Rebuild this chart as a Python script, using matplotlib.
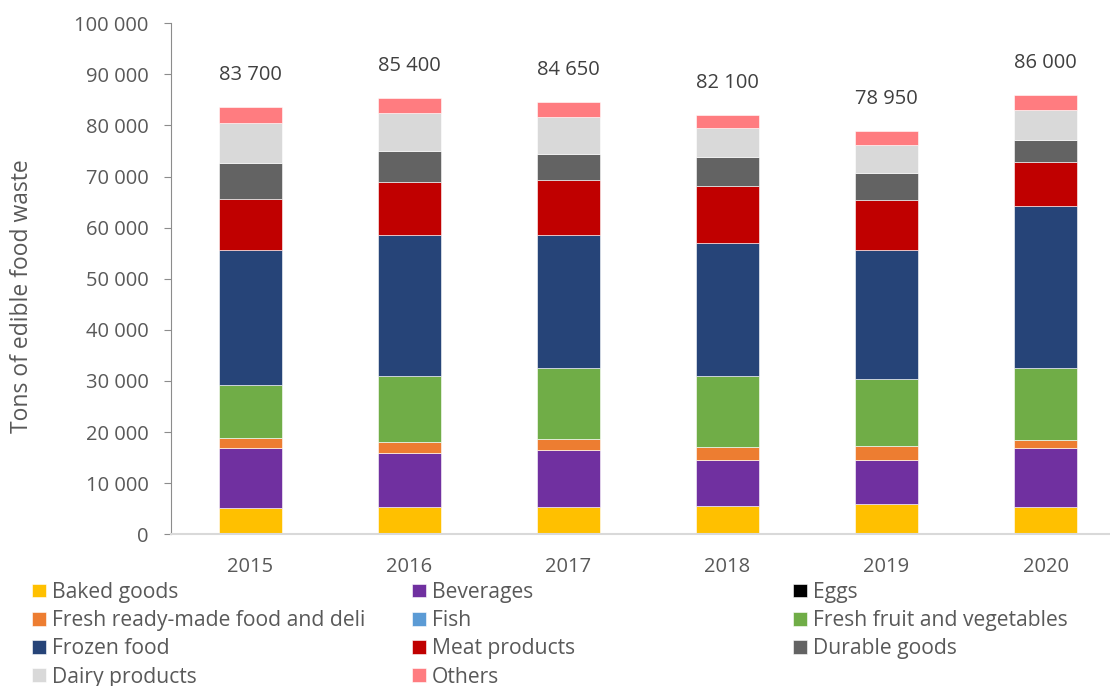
import matplotlib.pyplot as plt
import numpy as np

plt.rcParams['font.family'] = ['Open Sans', 'DejaVu Sans']

years = ['2015', '2016', '2017', '2018', '2019', '2020']

# tons of edible food waste per category, stacked bottom to top
baked_goods = [5100, 5350, 5300, 5500, 5950, 5350]
beverages = [11850, 10550, 11150, 9100, 8650, 11450]
eggs = [0, 0, 0, 0, 0, 0]
fresh_ready_made = [1850, 2200, 2200, 2550, 2650, 1750]
fish = [0, 0, 0, 0, 0, 0]
fruit_vegetables = [10450, 12900, 13800, 13850, 13050, 13950]
frozen_food = [26450, 27500, 26100, 26000, 25300, 31750]
meat_products = [9900, 10450, 10750, 11150, 9800, 8650]
durable_goods = [7150, 6150, 5200, 5650, 5400, 4200]
dairy_products = [7750, 7400, 7150, 5650, 5450, 5850]
others = [3200, 2900, 3000, 2650, 2700, 3050]

series = [
    ('Baked goods', baked_goods, '#FFC000'),
    ('Beverages', beverages, '#7030A0'),
    ('Eggs', eggs, '#000000'),
    ('Fresh ready-made food and deli', fresh_ready_made, '#ED7D31'),
    ('Fish', fish, '#5B9BD5'),
    ('Fresh fruit and vegetables', fruit_vegetables, '#70AD47'),
    ('Frozen food', frozen_food, '#264478'),
    ('Meat products', meat_products, '#C00000'),
    ('Durable goods', durable_goods, '#636363'),
    ('Dairy products', dairy_products, '#D9D9D9'),
    ('Others', others, '#FF7C80'),
]


def fmt(v):
    return f"{int(round(v)):,}".replace(',', ' ')


fig = plt.figure(figsize=(11.1, 6.86), dpi=100)
ax = fig.add_axes([171 / 1110, 151.7 / 686, 954 / 1110, 511 / 686])

x = np.arange(len(years))
bottom = np.zeros(len(years))
handles = []
for name, vals, color in series:
    vals = np.array(vals, dtype=float)
    bars = ax.bar(x, vals, 0.4, bottom=bottom, color=color, label=name,
                  edgecolor='white', linewidth=0.4)
    handles.append(bars)
    bottom += vals

# totals above each stack
for xi, total in zip(x, bottom):
    ax.annotate(fmt(total), (xi, total), xytext=(0, 23),
                textcoords='offset points', ha='center', va='center',
                fontsize=14.5, color='#404040')

ax.set_xlim(-0.5, len(years) - 0.5)
ax.set_ylim(0, 100000)
ax.set_yticks(np.arange(0, 100001, 10000))
ax.set_yticklabels([fmt(v) for v in np.arange(0, 100001, 10000)])
ax.set_xticks(x)
ax.set_xticklabels(years)

ax.spines['top'].set_visible(False)
ax.spines['right'].set_visible(False)
ax.spines['left'].set_color('#8c8c8c')
ax.spines['bottom'].set_color('#d9d9d9')
ax.spines['bottom'].set_linewidth(1.5)
ax.tick_params(axis='y', length=5, color='#8c8c8c', pad=11,
               labelsize=14.5, labelcolor='#595959')
ax.tick_params(axis='x', length=0, pad=16, labelsize=14.5,
               labelcolor='#595959')

fig.text(22 / 1110, 1 - 296 / 686, 'Tons of edible food waste', rotation=90,
         ha='center', va='center', fontsize=16.5, color='#595959')

# legend laid out row by row in three columns
col_x = [32, 412, 793]
for c in range(3):
    idx = list(range(c, len(series), 3))
    leg = fig.legend([handles[i] for i in idx], [series[i][0] for i in idx],
                     loc='upper left', bbox_to_anchor=(col_x[c] / 1110, 1 - 582 / 686),
                     frameon=False, fontsize=15.2, handlelength=0.65,
                     handleheight=0.62, handletextpad=0.3, labelspacing=0.34,
                     borderpad=0, borderaxespad=0)
    for t in leg.get_texts():
        t.set_color('#595959')

fig.savefig('out.png', dpi=100)
